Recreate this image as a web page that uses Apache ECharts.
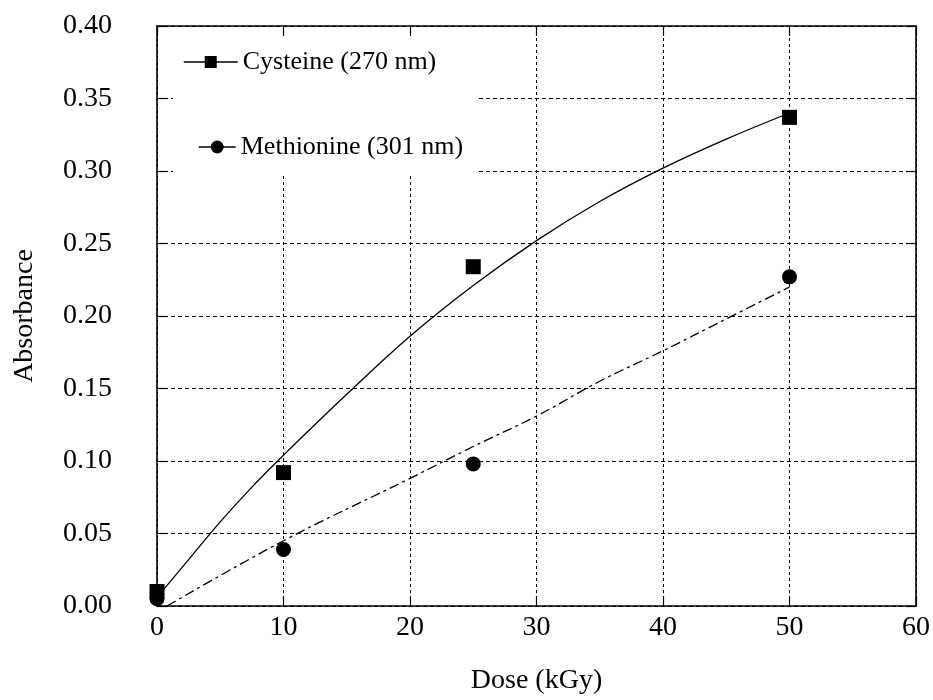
<!DOCTYPE html>
<html>
<head>
<meta charset="utf-8">
<script src="https://cdn.jsdelivr.net/npm/echarts@6/dist/echarts.min.js"></script>
<style>
  html, body { margin: 0; padding: 0; background: #fff; }
  #chart { width: 933px; height: 700px; }
</style>
</head>
<body>
<div id="chart"></div>
<script>
// Measured absorbance of irradiated amino acid solutions
const cysteineName = 'Cysteine (270 nm)';
const methionineName = 'Methionine (301 nm)';

const cysteineDose = [0, 10, 25, 50];
const cysteineAbs = [0.010, 0.092, 0.234, 0.337];

const methionineDose = [0, 10, 25, 50];
const methionineAbs = [0.005, 0.039, 0.098, 0.227];

// Trend curves drawn through each data set
const cysteineFitDose = [0, 2.5, 5, 7.5, 10, 15, 20, 25, 30, 35, 40, 45, 50];
const cysteineFitAbs = [0.006, 0.032, 0.058, 0.082, 0.104, 0.146, 0.186, 0.221, 0.252, 0.279, 0.302, 0.322, 0.340];

const methionineFitDose = [0.8, 10, 20, 25, 30, 35, 40, 45, 50];
const methionineFitAbs = [0.000, 0.045, 0.088, 0.110, 0.131, 0.155, 0.176, 0.198, 0.220];

// Axis ranges and tick steps
const doseMin = 0, doseMax = 60, doseStep = 10;
const absMin = 0, absMax = 0.40, absStep = 0.05;

const zip = (xs, ys) => xs.map((x, i) => [x, ys[i]]);

const FONT = 'Liberation Serif';
const INK = '#000';

const chart = echarts.init(document.getElementById('chart'), null, { renderer: 'canvas' });

const frameAxis = {
  axisLine: { show: true, onZero: false, lineStyle: { color: INK, width: 1.6 } },
  axisTick: { show: true, inside: true, length: 10, lineStyle: { color: INK, width: 1.2 } },
};

chart.setOption({
  backgroundColor: '#fff',
  animation: false,
  grid: { left: 157, right: 16, top: 26, bottom: 90, containLabel: false },
  xAxis: [
    Object.assign({
      type: 'value', position: 'bottom',
      min: doseMin, max: doseMax, interval: doseStep,
      name: 'Dose (kGy)', nameLocation: 'middle', nameGap: 61,
      nameTextStyle: { fontFamily: FONT, fontSize: 28, color: INK },
      axisLabel: { fontFamily: FONT, fontSize: 28, color: INK, margin: 8 },
      splitLine: { show: true, lineStyle: { color: INK, width: 1, type: [3, 3] } },
    }, frameAxis),
    Object.assign({
      type: 'value', position: 'top',
      min: doseMin, max: doseMax, interval: doseStep,
      axisLabel: { show: false }, splitLine: { show: false },
    }, frameAxis),
  ],
  yAxis: [
    Object.assign({
      type: 'value', position: 'left',
      min: absMin, max: absMax, interval: absStep,
      name: 'Absorbance', nameLocation: 'middle', nameGap: 118, nameRotate: 90,
      nameTextStyle: { fontFamily: FONT, fontSize: 28, color: INK },
      axisLabel: { fontFamily: FONT, fontSize: 28, color: INK, margin: 45,
                   formatter: v => v.toFixed(2) },
      splitLine: { show: true, lineStyle: { color: INK, width: 1, type: [4, 3] } },
    }, frameAxis),
    Object.assign({
      type: 'value', position: 'right',
      min: absMin, max: absMax, interval: absStep,
      axisLabel: { show: false }, splitLine: { show: false },
    }, frameAxis),
  ],
  // white panel behind the key, hiding the grid there
  graphic: [{
    type: 'rect', z: 1,
    shape: { x: 173, y: 36, width: 305, height: 137.5 },
    style: { fill: '#fff' },
  }],
  legend: [
    {
      data: [cysteineName], left: 183, top: 49, padding: 0,
      itemWidth: 54, itemHeight: 15, z: 5,
      textStyle: { fontFamily: FONT, fontSize: 26, color: INK },
      lineStyle: { width: 1.5, color: INK, opacity: 1, type: 'solid' },
      itemStyle: { color: INK },
    },
    {
      data: [methionineName], left: 198, top: 134, padding: 0,
      itemWidth: 37, itemHeight: 16, z: 5,
      textStyle: { fontFamily: FONT, fontSize: 26, color: INK },
      lineStyle: { width: 1.5, color: INK, opacity: 1, type: 'solid' },
      itemStyle: { color: INK },
    },
  ],
  series: [
    {
      name: cysteineName, type: 'line', z: 3,
      data: zip(cysteineDose, cysteineAbs),
      symbol: 'rect', symbolSize: 15,
      itemStyle: { color: INK },
      lineStyle: { width: 0, opacity: 0 },
    },
    {
      name: methionineName, type: 'line', z: 3,
      data: zip(methionineDose, methionineAbs),
      symbol: 'circle', symbolSize: 15,
      itemStyle: { color: INK },
      lineStyle: { width: 0, opacity: 0 },
    },
    {
      name: 'cysteine-trend', type: 'line', z: 2,
      data: zip(cysteineFitDose, cysteineFitAbs),
      smooth: 0.4, showSymbol: false, symbol: 'none',
      lineStyle: { color: INK, width: 1.3, type: 'solid' },
    },
    {
      name: 'methionine-trend', type: 'line', z: 2,
      data: zip(methionineFitDose, methionineFitAbs),
      smooth: 0.4, showSymbol: false, symbol: 'none',
      lineStyle: { color: INK, width: 1.3, type: [10, 4, 3, 4] },
    },
  ],
});
</script>
</body>
</html>
